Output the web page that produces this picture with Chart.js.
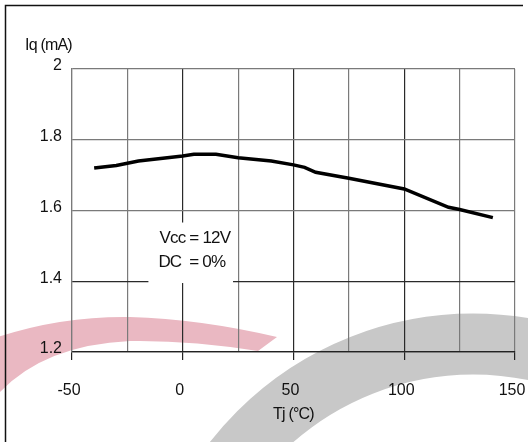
<!DOCTYPE html>
<html lang="en">
  <head>
    <meta charset="UTF-8" />
    <title>Iq vs Tj</title>
    <style>
      html, body { margin: 0; padding: 0; background: #fff; }
      #wrap { width: 528px; height: 442px; position: relative; }
    </style>
  </head>
  <body>
    <div id="wrap">
      <canvas id="chart" width="528" height="442"></canvas>
    </div>
    <script src="https://cdn.jsdelivr.net/npm/chart.js@4/dist/chart.umd.min.js"></script>
    <script>
// junction temperature (°C) and quiescent current (mA)
var tj = [-40, -30, -20, 0, 5, 15, 25, 40, 50, 55, 60, 75, 100, 120, 125, 140];
var iq = [1.72, 1.727, 1.74, 1.754, 1.759, 1.759, 1.749, 1.74, 1.729, 1.722, 1.708, 1.691, 1.661, 1.609, 1.603, 1.58];

var xTicks = [-50, 0, 50, 100, 150];
var yTicks = [1.2, 1.4, 1.6, 1.8, 2];
var noteLines = ['Vcc = 12V', 'DC  = 0%'];

var points = tj.map(function (t, i) { return { x: t, y: iq[i] }; });
var FONT = '"Liberation Sans", Arial, sans-serif';

// background swooshes, page frame, axis titles and the conditions box
var decor = {
  id: 'decor',
  beforeDraw: function (chart) {
    var c = chart.ctx;
    c.save();
    // grey band
    c.strokeStyle = 'rgb(200,200,200)';
    c.lineWidth = 61;
    c.beginPath();
    c.arc(473, 647, 303, Math.PI, 2 * Math.PI);
    c.stroke();
    // pink band
    c.fillStyle = 'rgb(234,184,194)';
    c.beginPath();
    c.moveTo(-5, 338);
    c.quadraticCurveTo(60, 316, 130, 317);
    c.quadraticCurveTo(200, 319, 277, 337);
    c.lineTo(258, 351);
    c.quadraticCurveTo(190, 340, 130, 341);
    c.quadraticCurveTo(45, 345, 0, 392);
    c.closePath();
    c.fill();
    // frame
    c.strokeStyle = '#111';
    c.lineWidth = 1.5;
    c.beginPath();
    c.moveTo(5.5, 442);
    c.lineTo(5.5, 5.5);
    c.lineTo(523, 5.5);
    c.stroke();
    c.restore();
  },
  beforeDatasetsDraw: function (chart) {
    var c = chart.ctx, xs = chart.scales.x, ys = chart.scales.y;
    var x0 = xs.getPixelForValue(-15.5), x1 = xs.getPixelForValue(22.7);
    var y0 = ys.getPixelForValue(1.566), y1 = ys.getPixelForValue(1.395);
    c.save();
    c.fillStyle = '#fff';
    c.fillRect(x0, y0, x1 - x0, y1 - y0);
    c.fillStyle = '#111';
    c.font = '17px ' + FONT;
    c.letterSpacing = '-0.8px';
    c.textAlign = 'left';
    c.textBaseline = 'middle';
    c.fillText(noteLines[0], xs.getPixelForValue(-10.5), ys.getPixelForValue(1.522));
    c.fillText(noteLines[1], xs.getPixelForValue(-11), ys.getPixelForValue(1.454));
    c.restore();
  },
  afterDraw: function (chart) {
    var c = chart.ctx;
    c.save();
    c.fillStyle = '#111';
    c.textBaseline = 'middle';
    c.letterSpacing = '-0.8px';
    c.font = '16px ' + FONT;
    c.textAlign = 'left';
    c.fillText('Iq (mA)', 25, 46);
    c.textAlign = 'center';
    c.fillText('Tj (°C)', chart.scales.x.getPixelForValue(50), 415);
    c.restore();
  }
};

function tenths(v) { return Math.round(v * 10); }

new Chart(document.getElementById('chart'), {
  type: 'scatter',
  data: {
    datasets: [{
      data: points,
      showLine: true,
      borderColor: '#000',
      borderWidth: 3.5,
      pointRadius: 0,
      tension: 0
    }]
  },
  options: {
    responsive: false,
    animation: false,
    layout: { padding: { left: 0, top: 69, right: 13, bottom: 0 } },
    plugins: { legend: { display: false }, tooltip: { enabled: false } },
    scales: {
      x: {
        type: 'linear',
        min: -50,
        max: 150,
        afterFit: function (s) {
          s.height = 90;
          s.paddingLeft = 0;
          s.paddingRight = 0;
        },
        border: { display: true, color: '#222', width: 1.2 },
        grid: {
          lineWidth: 1.2,
          tickLength: 8,
          color: function (ctx) {
            var v = ctx.tick ? ctx.tick.value : 0;
            return (v === 0 || v === 50 || v === 100) ? '#2a2a2a' : '#7a7a7a';
          },
          tickColor: function (ctx) {
            var v = ctx.tick ? ctx.tick.value : 0;
            return xTicks.indexOf(v) >= 0 ? '#222' : 'rgba(0,0,0,0)';
          }
        },
        ticks: {
          stepSize: 25,
          padding: 21,
          labelOffset: -3,
          maxRotation: 0,
          autoSkip: false,
          color: '#111',
          font: { family: FONT, size: 16 },
          callback: function (v) { return xTicks.indexOf(v) >= 0 ? String(v) : ''; }
        }
      },
      y: {
        min: 1.2,
        max: 2,
        afterFit: function (s) {
          s.width = 72;
          s.paddingTop = 0;
          s.paddingBottom = 0;
        },
        border: { display: true, color: '#7a7a7a', width: 1.2 },
        grid: {
          lineWidth: 1.2,
          drawTicks: false,
          color: function (ctx) {
            var v = ctx.tick ? tenths(ctx.tick.value) : 0;
            return v <= 14 ? '#2a2a2a' : '#7a7a7a';
          }
        },
        ticks: {
          stepSize: 0.2,
          padding: 10,
          labelOffset: -3,
          color: '#111',
          font: { family: FONT, size: 16 },
          callback: function (v) {
            var hit = yTicks.some(function (t) { return tenths(t) === tenths(v); });
            return hit ? String(tenths(v) / 10) : '';
          }
        }
      }
    }
  },
  plugins: [decor]
});
    </script>
  </body>
</html>
